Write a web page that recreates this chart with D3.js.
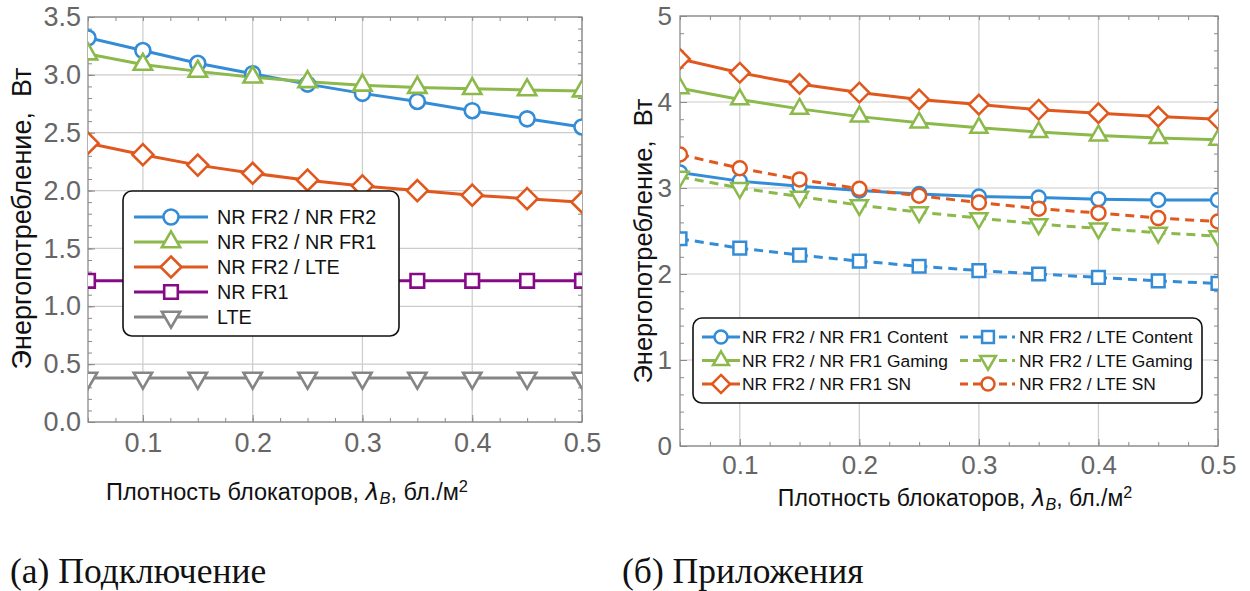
<!DOCTYPE html>
<html><head><meta charset="utf-8">
<script src="https://cdn.jsdelivr.net/npm/d3@7"></script>
<style>
body{margin:0;background:#fff;}
svg{display:block;font-family:"Liberation Sans",Arial,sans-serif;}
</style></head>
<body>
<svg id="chart" width="1250" height="591"></svg>
<script>
// ---------- data ----------
const xValues = [0.05, 0.10, 0.15, 0.20, 0.25, 0.30, 0.35, 0.40, 0.45, 0.50];
const xTickLabels = ["0.1", "0.2", "0.3", "0.4", "0.5"];
const yTickLabelsA = ["0.0", "0.5", "1.0", "1.5", "2.0", "2.5", "3.0", "3.5"];
const yTickLabelsB = ["0", "1", "2", "3", "4", "5"];

// (a) Подключение
const seriesNamesA = ["NR FR2 / NR FR2", "NR FR2 / NR FR1", "NR FR2 / LTE", "NR FR1", "LTE"];
const nrFr2NrFr2 = [3.32, 3.21, 3.10, 3.01, 2.92, 2.84, 2.77, 2.69, 2.62, 2.55];
const nrFr2NrFr1 = [3.18, 3.09, 3.03, 2.98, 2.94, 2.91, 2.89, 2.88, 2.87, 2.86];
const nrFr2Lte   = [2.41, 2.31, 2.22, 2.15, 2.09, 2.04, 2.00, 1.96, 1.93, 1.90];
const nrFr1      = [1.22, 1.22, 1.22, 1.22, 1.22, 1.22, 1.22, 1.22, 1.22, 1.22];
const lte        = [0.38, 0.38, 0.38, 0.38, 0.38, 0.38, 0.38, 0.38, 0.38, 0.38];

// (б) Приложения
const seriesNamesB = ["NR FR2 / NR FR1 Content", "NR FR2 / NR FR1 Gaming", "NR FR2 / NR FR1 SN",
                      "NR FR2 / LTE Content", "NR FR2 / LTE Gaming", "NR FR2 / LTE SN"];
const fr1Content = [3.18, 3.08, 3.02, 2.97, 2.93, 2.90, 2.89, 2.87, 2.86, 2.86];
const fr1Gaming  = [4.16, 4.03, 3.92, 3.83, 3.76, 3.70, 3.65, 3.61, 3.58, 3.56];
const fr1SN      = [4.50, 4.34, 4.21, 4.11, 4.03, 3.97, 3.91, 3.87, 3.83, 3.80];
const lteContent = [2.41, 2.30, 2.22, 2.15, 2.09, 2.04, 2.00, 1.96, 1.92, 1.89];
const lteGaming  = [3.13, 3.00, 2.90, 2.80, 2.72, 2.65, 2.58, 2.53, 2.48, 2.44];
const lteSN      = [3.39, 3.23, 3.10, 2.99, 2.91, 2.83, 2.76, 2.71, 2.65, 2.61];

const yLabel = "Энергопотребление,  Вт";
const captionA = "(а) Подключение";
const captionB = "(б) Приложения";

// ---------- styles ----------
const C = {blue:"#348cd6", green:"#8cb94b", orange:"#e0581e", purple:"#860a86", gray:"#858585"};
const svg = d3.select("#chart");

function drawMarker(g, type, x, y, s, color, sw){
  let m;
  if(type==="circle"){
    m = g.append("circle").attr("cx",x).attr("cy",y).attr("r",s);
  } else if(type==="diamond"){
    const r = s*1.4;
    m = g.append("path").attr("d",`M0,${-r}L${r},0L0,${r}L${-r},0Z`).attr("transform",`translate(${x},${y})`);
  } else {
    const sym = {triangle:d3.symbolTriangle, square:d3.symbolSquare, tridown:d3.symbolTriangle}[type];
    const area = {triangle: s*s*2.6, tridown: s*s*2.6, square: s*s*3.3}[type];
    m = g.append("path").attr("d", d3.symbol(sym, area)())
      .attr("transform", `translate(${x},${y})` + (type==="tridown"?" rotate(180)":""));
  }
  m.attr("fill","#fff").attr("stroke",color).attr("stroke-width",sw).attr("stroke-linejoin","miter");
}

function panel(cfg){
  const {x0,x1,y0,y1,yMax,yTicks,yMinor,yLabels,id} = cfg;
  const x = d3.scaleLinear().domain([0.05,0.5]).range([x0,x1]);
  const y = d3.scaleLinear().domain([0,yMax]).range([y1,y0]);
  const g = svg.append("g");
  const xt = [0.1,0.2,0.3,0.4,0.5];
  g.append("g").selectAll("line").data(xt).join("line")
    .attr("x1",d=>x(d)).attr("x2",d=>x(d)).attr("y1",y0).attr("y2",y1)
    .attr("stroke","#cccccc").attr("stroke-width",1.2);
  g.append("g").selectAll("line").data(yTicks).join("line")
    .attr("x1",x0).attr("x2",x1).attr("y1",d=>y(d)).attr("y2",d=>y(d))
    .attr("stroke","#cccccc").attr("stroke-width",1.2);
  const tickCol = "#8a8a8a";
  const xMinor = d3.range(0.05,0.5001,0.025);
  const axB = g.append("g").attr("transform",`translate(0,${y1})`)
    .call(d3.axisBottom(x).tickValues(xt).tickFormat((d,i)=>xTickLabels[i]).tickSizeInner(-7).tickSizeOuter(0).tickPadding(cfg.xPad));
  const axBm = g.append("g").attr("transform",`translate(0,${y1})`)
    .call(d3.axisBottom(x).tickValues(xMinor).tickFormat("").tickSizeInner(-4).tickSizeOuter(0));
  const axT = g.append("g").attr("transform",`translate(0,${y0})`)
    .call(d3.axisTop(x).tickValues(xMinor).tickFormat("").tickSizeInner(-4).tickSizeOuter(0));
  const axL = g.append("g").attr("transform",`translate(${x0},0)`)
    .call(d3.axisLeft(y).tickValues(yTicks).tickFormat((d,i)=>yLabels[i]).tickSizeInner(-7).tickSizeOuter(0).tickPadding(cfg.yPad));
  const axLm = g.append("g").attr("transform",`translate(${x0},0)`)
    .call(d3.axisLeft(y).tickValues(yMinor).tickFormat("").tickSizeInner(-4).tickSizeOuter(0));
  const axR = g.append("g").attr("transform",`translate(${x1},0)`)
    .call(d3.axisRight(y).tickValues(yMinor).tickFormat("").tickSizeInner(-4).tickSizeOuter(0));
  [axB,axBm,axT,axL,axLm,axR].forEach(a=>{
    a.select(".domain").remove();
    a.selectAll("line").attr("stroke",tickCol).attr("stroke-width",1);
    a.selectAll("text").attr("fill","#666").attr("font-size",cfg.tickFont).attr("font-family","Liberation Sans, Arial, sans-serif");
  });
  g.append("rect").attr("x",x0).attr("y",y0).attr("width",x1-x0).attr("height",y1-y0)
    .attr("fill","none").attr("stroke","#8a8a8a").attr("stroke-width",1.3);
  svg.append("clipPath").attr("id",id).append("rect")
    .attr("x",x0).attr("y",y0).attr("width",x1-x0).attr("height",y1-y0);
  const pg = svg.append("g").attr("clip-path",`url(#${id})`);
  const line = d3.line().x((d,i)=>x(xValues[i])).y(d=>y(d));
  cfg.series.forEach(s=>{
    pg.append("path").datum(s.values).attr("d",line).attr("fill","none")
      .attr("stroke",s.color).attr("stroke-width",cfg.lw)
      .attr("stroke-dasharray", s.dash ? cfg.dash : null);
  });
  cfg.series.forEach(s=>{
    s.values.forEach((v,i)=>drawMarker(pg, s.marker, x(xValues[i]), y(v), cfg.ms, s.color, cfg.msw));
  });
  svg.append("text").attr("transform",`translate(${cfg.ylx},${(y0+y1)/2+cfg.yly}) rotate(-90)`)
    .attr("text-anchor","middle").attr("font-size",cfg.ylFont).attr("fill","#111")
    .style("white-space","pre").text(yLabel);
  const t = svg.append("text").attr("x",cfg.xlx).attr("y",cfg.xly).attr("text-anchor","middle")
    .attr("font-size",cfg.xlFont).attr("fill","#111");
  t.append("tspan").text("Плотность блокаторов, ");
  t.append("tspan").attr("font-style","italic").attr("font-family","DejaVu Sans, sans-serif").text("λ");
  t.append("tspan").attr("font-style","italic").attr("font-size",cfg.xlFont*0.7).attr("dy",4).text("B");
  t.append("tspan").attr("dy",-4).text(", бл./м");
  t.append("tspan").attr("font-size",cfg.xlFont*0.7).attr("dy",-8).text("2");
  return {x,y};
}

// ---------- panel (a) ----------
panel({
  id:"clipA", x0:88, x1:582, y0:17, y1:422, yMax:3.5,
  yTicks:[0,0.5,1,1.5,2,2.5,3,3.5], yMinor:d3.range(0,3.5001,0.1), yLabels:yTickLabelsA,
  tickFont:27, xPad:11, yPad:7, lw:3, ms:7.5, msw:2.6, dash:"10,6",
  ylx:31, yly:-1, ylFont:27, xlx:287, xly:500, xlFont:23.5,
  series:[
    {values:nrFr2NrFr2, color:C.blue, marker:"circle"},
    {values:nrFr2NrFr1, color:C.green, marker:"triangle"},
    {values:nrFr2Lte, color:C.orange, marker:"diamond"},
    {values:nrFr1, color:C.purple, marker:"square"},
    {values:lte, color:C.gray, marker:"tridown"}
  ]
});

// ---------- panel (b) ----------
panel({
  id:"clipB", x0:680, x1:1218, y0:16, y1:446, yMax:5,
  yTicks:[0,1,2,3,4,5], yMinor:d3.range(0,5.0001,0.2), yLabels:yTickLabelsB,
  tickFont:26, xPad:10, yPad:8, lw:3, ms:7, msw:2.5, dash:"9,6",
  ylx:652, yly:10, ylFont:25.5, xlx:955, xly:506, xlFont:23,
  series:[
    {values:fr1Content, color:C.blue, marker:"circle"},
    {values:fr1Gaming, color:C.green, marker:"triangle"},
    {values:fr1SN, color:C.orange, marker:"diamond"},
    {values:lteContent, color:C.blue, marker:"square", dash:true},
    {values:lteGaming, color:C.green, marker:"tridown", dash:true},
    {values:lteSN, color:C.orange, marker:"circle", dash:true}
  ]
});

// ---------- legends ----------
function legendBox(x,y,w,h){
  svg.append("rect").attr("x",x).attr("y",y).attr("width",w).attr("height",h).attr("rx",9)
    .attr("fill","#fff").attr("stroke","#111").attr("stroke-width",1.6);
}
function legendItem(lx0,lx1,mx,tx,y,color,marker,dash,text,font,ms,msw,lw){
  svg.append("line").attr("x1",lx0).attr("x2",lx1).attr("y1",y).attr("y2",y)
    .attr("stroke",color).attr("stroke-width",lw).attr("stroke-dasharray",dash?"8,5":null);
  drawMarker(svg, marker, mx, y, ms, color, msw);
  svg.append("text").attr("x",tx).attr("y",y).attr("dy","0.36em").attr("font-size",font).attr("fill","#111").text(text);
}
legendBox(123,191,276,145);
const legA = [
  {color:C.blue, marker:"circle"},{color:C.green, marker:"triangle"},{color:C.orange, marker:"diamond"},
  {color:C.purple, marker:"square"},{color:C.gray, marker:"tridown"}];
legA.forEach((d,i)=>legendItem(134,208,171,217,217+i*25,d.color,d.marker,false,seriesNamesA[i],19.8,7.5,2.6,3));

legendBox(693,318,509,85);
const legB = [
  {color:C.blue, marker:"circle"},{color:C.green, marker:"triangle"},{color:C.orange, marker:"diamond"},
  {color:C.blue, marker:"square", dash:true},{color:C.green, marker:"tridown", dash:true},{color:C.orange, marker:"circle", dash:true}];
legB.forEach((d,i)=>{
  const col = i<3?0:1, row = i%3;
  if(col===0) legendItem(702,740,721,742,337+row*23.5,d.color,d.marker,false,seriesNamesB[i],17.4,6.5,2.5,3);
  else legendItem(960,1015,988,1019,337+row*23.5,d.color,d.marker,true,seriesNamesB[i],17.4,6.5,2.5,3);
});

// ---------- captions ----------
svg.append("text").attr("x",10).attr("y",583).attr("font-family","Liberation Serif, Times New Roman, serif")
  .attr("font-size",35.5).attr("fill","#111").text(captionA);
svg.append("text").attr("x",622).attr("y",583).attr("font-family","Liberation Serif, Times New Roman, serif")
  .attr("font-size",35.5).attr("fill","#111").text(captionB);
</script>
</body></html>
